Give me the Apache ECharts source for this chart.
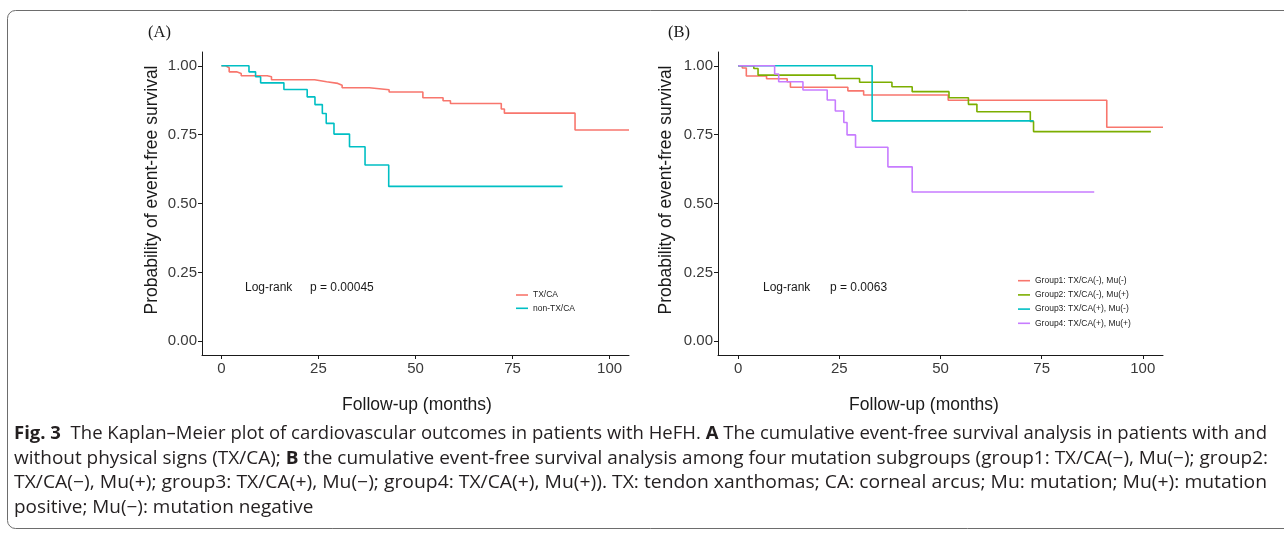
<!DOCTYPE html>
<html><head><meta charset="utf-8">
<script src="https://cdn.jsdelivr.net/npm/echarts@6/dist/echarts.min.js"></script>
<style>html,body{margin:0;padding:0;background:#fff}#c{width:1284px;height:534px}</style>
</head><body><div id="c"></div>
<script>
// ---------- data ----------
const xTicks = [0, 25, 50, 75, 100];
const yTicks = [0, 0.25, 0.5, 0.75, 1];

// Panel A
const aTxcaTime = [0, 1.1, 2.0, 3.9, 5.1, 11.8, 12.9, 24.0, 27.1, 30.0, 31.1, 38.1, 43.2, 51.9, 57.1, 59.0, 72.1, 72.9, 91.1, 105];
const aTxcaSurv = [1.000, 0.993, 0.978, 0.972, 0.964, 0.960, 0.949, 0.942, 0.936, 0.929, 0.920, 0.913, 0.905, 0.884, 0.873, 0.863, 0.843, 0.828, 0.767, 0.767];
const aNonTime = [0, 7.1, 8.8, 10.1, 16.1, 22.1, 24.1, 26.0, 27.0, 29.0, 33.0, 37.0, 43.1, 87.9];
const aNonSurv = [1.000, 0.978, 0.960, 0.938, 0.914, 0.887, 0.859, 0.827, 0.791, 0.752, 0.706, 0.640, 0.562, 0.562];

// Panel B
const g1Time = [0, 1.0, 2.0, 7.0, 12.1, 12.9, 27.1, 31.0, 51.9, 91.1, 105];
const g1Surv = [1.000, 0.992, 0.963, 0.953, 0.942, 0.922, 0.909, 0.894, 0.875, 0.777, 0.777];
const g2Time = [0, 3.85, 4.9, 24.0, 30.0, 38.0, 43.0, 52.1, 56.9, 59.0, 72.2, 73.0, 102];
const g2Surv = [1.000, 0.990, 0.966, 0.954, 0.940, 0.924, 0.906, 0.884, 0.860, 0.833, 0.798, 0.761, 0.761];
const g3Time = [0, 33.1, 73.0];
const g3Surv = [1.000, 0.800, 0.800];
const g4Time = [0, 9.0, 10.0, 16.0, 22.0, 24.0, 26.1, 26.9, 29.0, 37.0, 43.0, 88.0];
const g4Surv = [1.000, 0.970, 0.942, 0.912, 0.876, 0.836, 0.794, 0.749, 0.704, 0.633, 0.542, 0.542];

const namesA = ['TX/CA', 'non-TX/CA'];
const namesB = ['Group1: TX/CA(-), Mu(-)', 'Group2: TX/CA(-), Mu(+)', 'Group3: TX/CA(+), Mu(-)', 'Group4: TX/CA(+), Mu(+)'];
const pTextA = 'p = 0.00045';
const pTextB = 'p = 0.0063';

const captionLines = [
  [{t:'Fig. 3', b:true}, {t:'  The Kaplan–Meier plot of cardiovascular outcomes in patients with HeFH. '}, {t:'A', b:true}, {t:' The cumulative event-free survival analysis in patients with and'}],
  [{t:'without physical signs (TX/CA); '}, {t:'B', b:true}, {t:' the cumulative event-free survival analysis among four mutation subgroups (group1: TX/CA(−), Mu(−); group2:'}],
  [{t:'TX/CA(−), Mu(+); group3: TX/CA(+), Mu(−); group4: TX/CA(+), Mu(+)). TX: tendon xanthomas; CA: corneal arcus; Mu: mutation; Mu(+): mutation'}],
  [{t:'positive; Mu(−): mutation negative'}]
];

// ---------- chart ----------
const SANS = '"Liberation Sans", Arial, Helvetica, sans-serif';
const SERIF = '"Liberation Serif", "Times New Roman", serif';
const CAP = '"Open Sans", "Noto Sans", sans-serif';
const zip = (t, s) => t.map((v, i) => [v, s[i]]);

function axisX(i) {
  return {
    type: 'value', gridIndex: i, min: -5, max: 105,
    axisLine: {show: true, onZero: false, lineStyle: {color: '#1a1a1a', width: 1}},
    axisTick: {show: true, length: 4, customValues: xTicks, lineStyle: {color: '#1a1a1a', width: 1}},
    axisLabel: {customValues: xTicks, fontSize: 15, color: '#3a3a3a', margin: 6, fontFamily: SANS},
    splitLine: {show: false}
  };
}
function axisY(i) {
  return {
    type: 'value', gridIndex: i, min: -0.05, max: 1.05,
    axisLine: {show: true, onZero: false, lineStyle: {color: '#1a1a1a', width: 1}},
    axisTick: {show: true, length: 4, customValues: yTicks, lineStyle: {color: '#1a1a1a', width: 1}},
    axisLabel: {customValues: yTicks, fontSize: 15, color: '#3a3a3a', margin: 5, fontFamily: SANS,
      formatter: v => v.toFixed(2)},
    splitLine: {show: false}
  };
}
function km(name, t, s, color, gi) {
  return {
    name, type: 'line', xAxisIndex: gi, yAxisIndex: gi, step: 'end',
    data: zip(t, s), showSymbol: false, symbol: 'none',
    lineStyle: {color, width: 1.6}, itemStyle: {color}, silent: true
  };
}

const colA = ['#F8766D', '#00BFC4'];
const colB = ['#F8766D', '#7CAE00', '#00BFC4', '#C77CFF'];

function measure(segs, size) {
  const c = document.createElement('canvas').getContext('2d');
  let w = 0;
  segs.forEach(s => { c.font = (s.b ? 'bold ' : '') + size + 'px "Open Sans"'; w += c.measureText(s.t).width; });
  return w;
}
const capSize = 18;
const capTargets = [1253, 1254, 1253];
const capScales = capTargets.map((w, i) => w / measure(captionLines[i], capSize));
const capAvg = capScales.reduce((a, b) => a + b, 0) / capScales.length;
const capY = [434, 458.5, 483, 507.5];
const captionGraphics = captionLines.map((segs, i) => ({
  type: 'text', x: 14, y: capY[i], scaleX: i < 3 ? capScales[i] : capAvg, silent: true,
  style: {
    text: segs.map(s => (s.b ? '{b|' : '{n|') + s.t + '}').join(''),
    rich: {
      b: {fontWeight: 'bold', fontSize: capSize, fontFamily: CAP, fill: '#231f20'},
      n: {fontSize: capSize, fontFamily: CAP, fill: '#231f20'}
    },
    fontSize: capSize, fontFamily: CAP, fill: '#231f20',
    textAlign: 'left', textVerticalAlign: 'middle'
  }
}));

function txt(x, y, text, size, family, extra) {
  return Object.assign({type: 'text', x, y, silent: true,
    style: Object.assign({text, fontSize: size, fontFamily: family, fill: '#1a1a1a', textAlign: 'left', textVerticalAlign: 'middle'}, extra && extra.style || {})},
    extra && extra.el || {});
}

const option = {
  animation: false,
  backgroundColor: '#fff',
  grid: [
    {left: 202, top: 52, width: 427, height: 303},
    {left: 718, top: 52, width: 445, height: 303}
  ],
  xAxis: [axisX(0), axisX(1)],
  yAxis: [axisY(0), axisY(1)],
  legend: [
    {data: namesA, orient: 'vertical', left: 516, top: 290, padding: 0, itemGap: 3.3,
      icon: 'rect', itemWidth: 12, itemHeight: 1.6, selectedMode: false,
      textStyle: {fontSize: 8.5, fontFamily: SANS, color: '#222', lineHeight: 10}},
    {data: namesB, orient: 'vertical', left: 1018, top: 275.7, padding: 0, itemGap: 4.2,
      icon: 'rect', itemWidth: 12, itemHeight: 1.6, selectedMode: false,
      textStyle: {fontSize: 8.5, fontFamily: SANS, color: '#222', lineHeight: 10}}
  ],
  series: [
    km(namesA[0], aTxcaTime, aTxcaSurv, colA[0], 0),
    km(namesA[1], aNonTime, aNonSurv, colA[1], 0),
    km(namesB[0], g1Time, g1Surv, colB[0], 1),
    km(namesB[1], g2Time, g2Surv, colB[1], 1),
    km(namesB[2], g3Time, g3Surv, colB[2], 1),
    km(namesB[3], g4Time, g4Surv, colB[3], 1)
  ],
  graphic: [
    {type: 'rect', silent: true, z: -10, shape: {x: 7.5, y: 10.5, width: 1300, height: 518, r: 8},
      style: {fill: 'none', stroke: '#6d6d6d', lineWidth: 1}},
    txt(148, 33, '(A)', 16.5, SERIF),
    txt(668, 33, '(B)', 16.5, SERIF),
    txt(152, 190, 'Probability of event-free survival', 17.5, SANS, {style: {textAlign: 'center'}, el: {rotation: Math.PI / 2}}),
    txt(666, 190, 'Probability of event-free survival', 17.5, SANS, {style: {textAlign: 'center'}, el: {rotation: Math.PI / 2}}),
    txt(417, 405, 'Follow-up (months)', 17.5, SANS, {style: {textAlign: 'center'}}),
    txt(924, 405, 'Follow-up (months)', 17.5, SANS, {style: {textAlign: 'center'}}),
    txt(245, 288, 'Log-rank', 12, SANS),
    txt(310, 288, pTextA, 12, SANS),
    txt(763, 288, 'Log-rank', 12, SANS),
    txt(830, 288, pTextB, 12, SANS)
  ].concat(captionGraphics)
};

const chart = echarts.init(document.getElementById('c'), null, {renderer: 'canvas'});
chart.setOption(option);
</script>
</body></html>
